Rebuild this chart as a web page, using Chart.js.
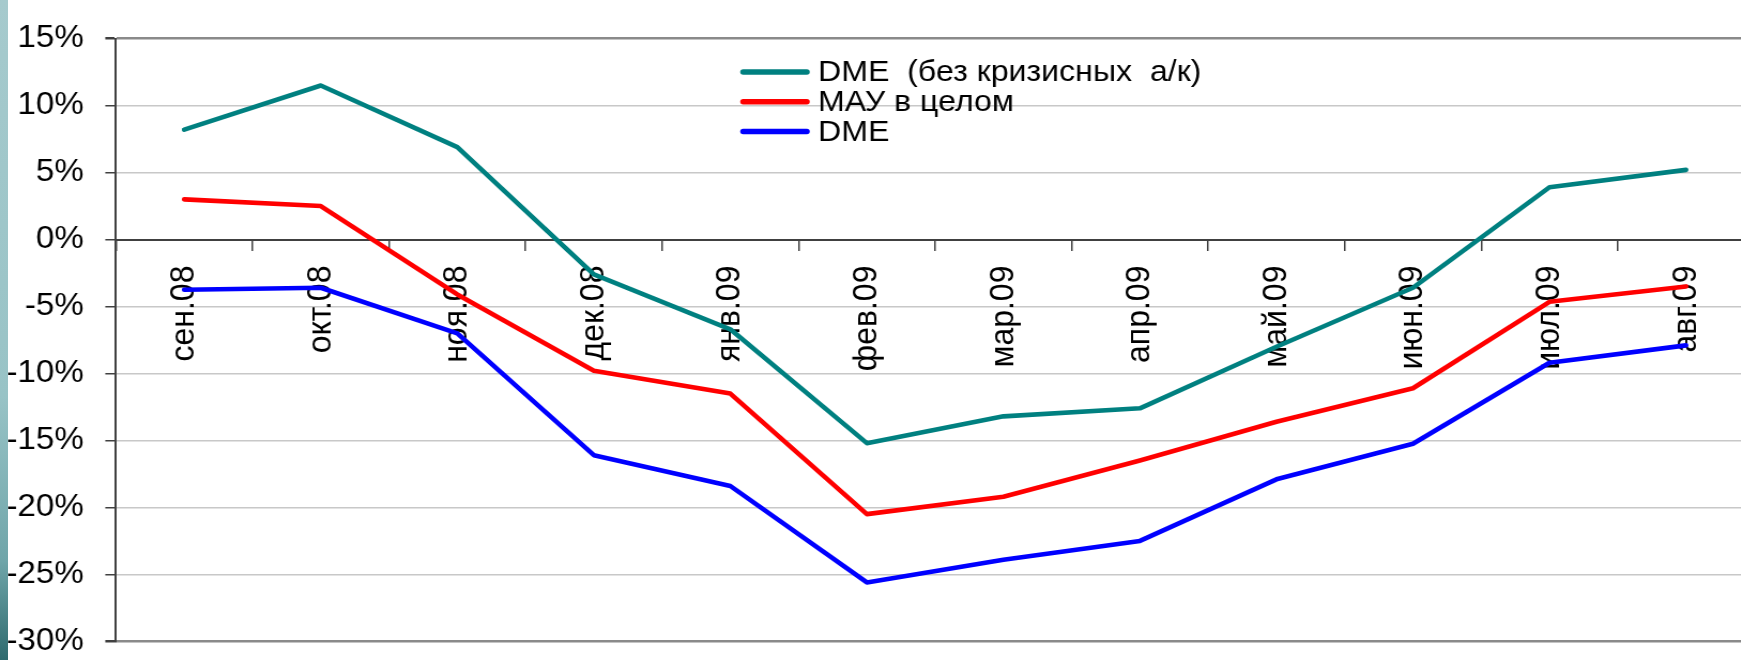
<!DOCTYPE html>
<html>
<head>
<meta charset="utf-8">
<script src="https://cdn.jsdelivr.net/npm/chart.js@4/dist/chart.umd.min.js"></script>
<style>
  html, body { margin: 0; padding: 0; background: #ffffff; overflow: hidden; width: 1741px; height: 660px; }
  #strip { position: absolute; left: 0; top: 0; width: 8px; height: 660px;
    background: linear-gradient(to bottom, #a6cacd 0%, #98c3c6 60%, #6fa5a9 85%, #2e6a6e 100%); z-index: 2; }
  #wrap { position: absolute; left: 0; top: 0; width: 1700px; height: 680px;
    transform: scaleX(1.07); transform-origin: 0 0; }
</style>
</head>
<body>
<div id="strip"></div>
<div id="wrap"><canvas id="c" width="1700" height="680"></canvas></div>
<script>
// ---- data ----
const categories = ['сен.08','окт.08','ноя.08','дек.08','янв.09','фев.09','мар.09','апр.09','май.09','июн.09','июл.09','авг.09'];
const seriesNames = ['DME  (без кризисных  а/к)', 'МАУ в целом', 'DME'];
const dmeNoCrisis = [8.2, 11.5, 6.9, -2.6, -6.7, -15.2, -13.2, -12.6, -8.0, -3.6, 3.9, 5.2];
const mauTotal    = [3.0, 2.5, -4.1, -9.8, -11.5, -20.5, -19.2, -16.5, -13.6, -11.1, -4.65, -3.5];
const dmeAll      = [-3.75, -3.6, -7.0, -16.1, -18.4, -25.6, -23.9, -22.5, -17.9, -15.25, -9.2, -7.9];
const yMin = -30, yMax = 15, yStep = 5;

const colors = ['#008080', '#ff0000', '#0000ff'];
const FONT = '"Liberation Sans", Arial, sans-serif';

const legendPlugin = {
  id: 'innerLegend',
  afterDraw(chart) {
    const ctx = chart.ctx;
    ctx.save();
    ctx.font = '30px ' + FONT;
    ctx.textBaseline = 'middle';
    ctx.textAlign = 'left';
    const x0 = 694.5, x1 = 754, tx = 764.5, y0 = 72, dy = 29.8;
    chart.data.datasets.forEach((ds, i) => {
      const y = y0 + i * dy;
      ctx.strokeStyle = ds.borderColor;
      ctx.lineWidth = 5.5;
      ctx.lineCap = 'round';
      ctx.beginPath(); ctx.moveTo(x0, y); ctx.lineTo(x1, y); ctx.stroke();
      ctx.fillStyle = '#000';
      ctx.fillText(ds.label, tx, y + 1);
    });
    ctx.restore();
  }
};

new Chart(document.getElementById('c'), {
  type: 'line',
  data: {
    labels: categories,
    datasets: [
      { label: seriesNames[0], data: dmeNoCrisis, borderColor: colors[0] },
      { label: seriesNames[1], data: mauTotal, borderColor: colors[1] },
      { label: seriesNames[2], data: dmeAll, borderColor: colors[2] }
    ].map(d => Object.assign(d, { borderWidth: 4.6, pointRadius: 0, tension: 0, fill: false, backgroundColor: d.borderColor, borderJoinStyle: 'round', borderCapStyle: 'round' }))
  },
  options: {
    responsive: false,
    animation: false,
    devicePixelRatio: 1,
    layout: { padding: { left: 0, top: 25, right: 60.5, bottom: 34 } },
    plugins: { legend: { display: false }, tooltip: { enabled: false } },
    scales: {
      x: {
        type: 'category',
        position: { y: 0 },
        offset: true,
        afterFit(s) { s.height = 0; },
        grid: { offset: true, drawOnChartArea: false, drawTicks: true, tickLength: 10, color: '#404040', lineWidth: 1.5 },
        border: { color: '#404040', width: 2 },
        ticks: { autoSkip: false, maxRotation: 90, minRotation: 90, padding: 16, color: '#000', font: { family: FONT, size: 32 } }
      },
      y: {
        min: yMin, max: yMax,
        afterFit(s) { s.width = 108.4; },
        grid: {
          color: c => (c.tick && (c.tick.value === yMax || c.tick.value === yMin)) ? '#8a8a8a' : '#c8c8c8',
          lineWidth: c => (c.tick && (c.tick.value === yMax || c.tick.value === yMin)) ? 2.5 : 1.5,
          tickColor: '#404040', tickLength: 10, drawTicks: true
        },
        border: { color: '#404040', width: 2 },
        ticks: { stepSize: yStep, padding: 20, color: '#000', font: { family: FONT, size: 31 }, callback: v => v + '%' }
      }
    }
  },
  plugins: [legendPlugin]
});
</script>
</body>
</html>
